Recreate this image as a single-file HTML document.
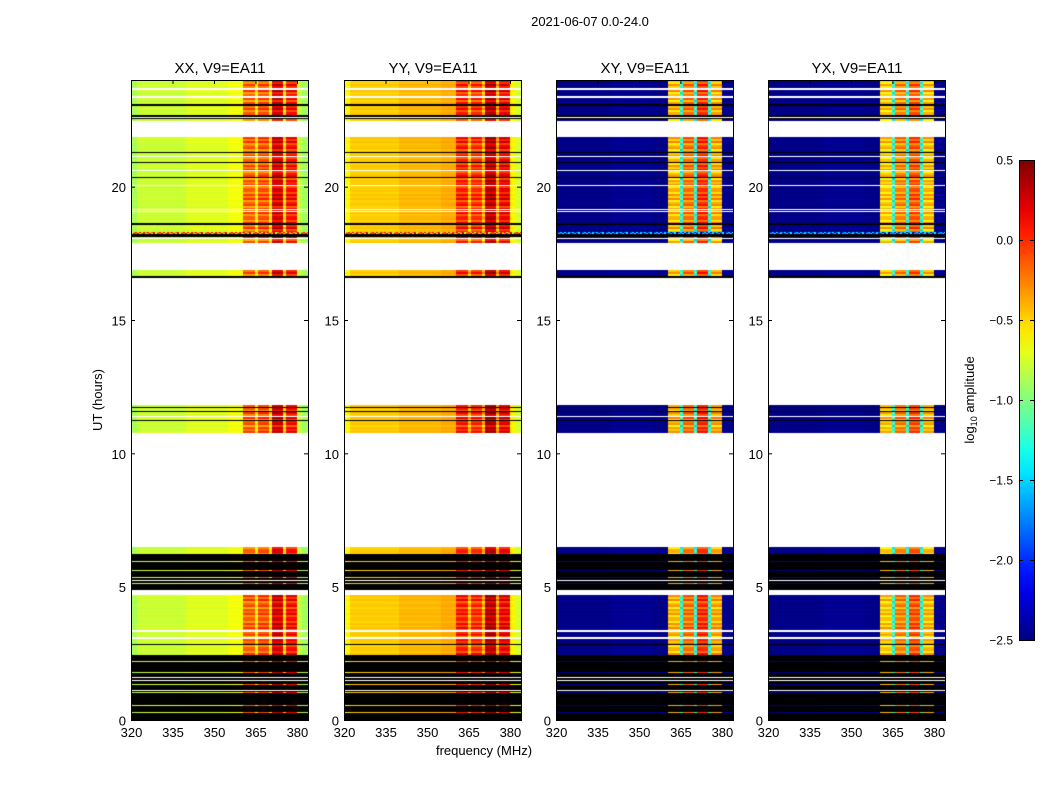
<!DOCTYPE html>
<html><head><meta charset="utf-8"><style>
body{margin:0;background:#fff;width:1050px;height:800px;overflow:hidden;font-family:"Liberation Sans","DejaVu Sans",sans-serif}
#root{position:relative;width:1050px;height:800px}
canvas{position:absolute}
svg{position:absolute;left:0;top:0}
</style></head><body>
<div id="root">
<canvas id="c0" width="177" height="640" style="left:131px;top:80px"></canvas>
<canvas id="c1" width="177" height="640" style="left:344px;top:80px"></canvas>
<canvas id="c2" width="177" height="640" style="left:556px;top:80px"></canvas>
<canvas id="c3" width="177" height="640" style="left:768px;top:80px"></canvas>
<svg id="ov" width="1050" height="800"></svg>
</div>
<script>
const panelTitles=["XX, V9=EA11","YY, V9=EA11","XY, V9=EA11","YX, V9=EA11"];
const panelLeft=[131,344,556,768];
const freqEdges=[320,322,340,355,360.5,365,366,370,371,375,376,380,382,384];
const levXX=[-0.88,-0.78,-0.72,-0.66,-0.2,-0.62,-0.15,-0.58,0.2,-0.55,0.05,-0.8,-0.9];
const levYY=[-0.62,-0.48,-0.42,-0.38,0.0,-0.45,-0.05,-0.42,0.3,-0.38,0.12,-0.6,-0.75];
const levXY=[-2.48,-2.48,-2.45,-2.48,-0.45,-1.3,-0.25,-1.3,-0.05,-1.3,-0.4,-2.45,-2.48];
const levYX=[-2.48,-2.48,-2.45,-2.48,-0.5,-1.3,-0.3,-1.3,-0.15,-1.3,-0.45,-2.45,-2.48];
const rowTex=[0.05,-0.1,0.12,-0.05,0.15,-0.12,0.02,0.1,-0.15,0.08,-0.02,0.12,-0.1,0.04];
const noiseTex=[0.3,-1.3,-0.2,0.4,-1.5,-0.6,0.2,-0.9,0.45,-1.2,0.1,-0.4];
const segs=[
[24.0,23.70,'d'],[23.64,23.40,'d'],[23.34,23.10,'d'],[23.10,23.04,'k'],[23.04,22.89,'d'],
[22.89,22.69,'d'],[22.69,22.63,'k'],[22.58,22.54,'k'],[22.54,22.48,'d'],
[21.86,21.30,'d'],[21.30,21.26,'k'],[21.26,21.15,'d'],[21.11,20.93,'d'],[20.93,20.87,'k'],
[20.87,20.63,'d'],[20.59,20.36,'d'],[20.36,20.33,'k'],[20.33,20.06,'d'],[20.03,19.16,'d'],
[19.13,19.09,'d'],[19.05,18.64,'d'],[18.64,18.58,'k'],[18.58,18.30,'d'],[18.30,18.22,'n'],
[18.22,18.13,'k'],[18.13,18.08,'d'],[18.02,17.89,'d'],[16.88,16.65,'d'],[16.65,16.59,'k'],
[11.81,11.74,'d'],[11.74,11.70,'k'],[11.70,11.59,'d'],[11.59,11.55,'k'],[11.55,11.40,'d'],
[11.36,11.25,'d'],[11.25,11.21,'k'],[11.21,10.76,'d'],
[6.49,6.23,'d'],[6.23,4.88,'k'],
[4.69,3.38,'d'],[3.30,3.11,'d'],[3.04,2.85,'d'],[2.85,2.81,'k'],[2.81,2.44,'d'],
[2.44,0.0,'k']];
const lineHours=[5.96,5.63,5.36,5.14,2.21,1.80,1.35,1.05,0.56,0.30];
const whiteLineHours=[1.61,1.50,1.13,5.26];
const levels=[levXX,levYY,levXY,levYX];

function jet(v){const x=Math.max(0,Math.min(1,(v+2.5)/3));
 const c=t=>Math.round(255*Math.max(0,Math.min(1,1.5-Math.abs(4*x-t))));
 return `rgb(${c(3)},${c(2)},${c(1)})`;}
const Y=h=>(24-h)*640/24;
const X=f=>(f-320)/64*177;

levels.forEach((lev,p)=>{
 const ctx=document.getElementById('c'+p).getContext('2d');
 function dataRow(y0,y1,tex){
  for(let i=0;i<lev.length;i++){
   const rfi=lev[i]>-1.6&&freqEdges[i]>=360&&freqEdges[i]<380;
   const v=lev[i]+tex*(rfi?1.4:0.25);
   ctx.fillStyle=jet(v);
   const xa=Math.round(X(freqEdges[i])),xb=Math.round(X(freqEdges[i+1]));
   ctx.fillRect(xa,y0,xb-xa,y1-y0);
  }
 }
 let r=0;
 segs.forEach(s=>{
  const y0=Math.round(Y(s[0])),y1=Math.max(Math.round(Y(s[1])),y0+1);
  if(s[2]==='k'){ctx.fillStyle='#000';ctx.fillRect(0,y0,177,y1-y0);}
  else if(s[2]==='n'){
   for(let y=y0;y<y1;y++){for(let x=0;x<177;x+=2){
     const t=noiseTex[(x/2+y*5)%noiseTex.length];
     const base=p>1?-1.6:0.0;
     ctx.fillStyle=jet(base+t*0.6);ctx.fillRect(x,y,2,1);}}
  } else {
   for(let y=y0;y<y1;y+=2){dataRow(y,Math.min(y+2,y1),rowTex[r++%rowTex.length]);}
  }
 });
 lineHours.forEach(h=>{const y=Math.round(Y(h));dataRow(y,y+1,0.05);});
 whiteLineHours.forEach(h=>{const y=Math.round(Y(h));ctx.fillStyle='#fff';ctx.fillRect(0,y,177,1);});
});

const NS='http://www.w3.org/2000/svg';
const ov=document.getElementById('ov');
function el(tag,attrs,txt){const e=document.createElementNS(NS,tag);for(const k in attrs)e.setAttribute(k,attrs[k]);if(txt!==undefined)e.textContent=txt;ov.appendChild(e);return e;}
const xTicks=[320,335,350,365,380];
const yTicks=[0,5,10,15,20];
panelLeft.forEach((L,p)=>{
 const fr=el('rect',{x:L+0.5,y:80.5,width:177,height:640,fill:'none',stroke:'#000','stroke-width':1});
 
 
 const t=el('text',{x:L+89,y:73,'text-anchor':'middle','font-size':15,fill:'#000'},panelTitles[p]);
 
 
 xTicks.forEach(f=>{const x=L+X(f)+0.5;
  el('line',{x1:x,x2:x,y1:720,y2:716,stroke:'#000'});el('line',{x1:x,x2:x,y1:80,y2:84,stroke:'#000'});
  const tl=el('text',{x:x,y:737,'text-anchor':'middle','font-size':13,fill:'#000'},String(f));
  
  });
 yTicks.forEach(h=>{const y=80+Y(h)+0.5;
  el('line',{x1:L,x2:L+4,y1:y,y2:y,stroke:'#000'});el('line',{x1:L+177,x2:L+173,y1:y,y2:y,stroke:'#000'});
  const yl=el('text',{x:L-5,y:y+5,'text-anchor':'end','font-size':13,fill:'#000'},String(h));
  
  });
});
const st=el('text',{x:590,y:26,'text-anchor':'middle','font-size':13,fill:'#000'},'2021-06-07 0.0-24.0');


const xl=el('text',{x:484,y:755,'text-anchor':'middle','font-size':13,fill:'#000'},'frequency (MHz)');


const yl=el('text',{x:0,y:0,'text-anchor':'middle','font-size':13,fill:'#000',transform:'translate(102,400) rotate(-90)'},'UT (hours)');


const defs=el('defs',{});
const g=document.createElementNS(NS,'linearGradient');g.setAttribute('id','jg');g.setAttribute('x1','0');g.setAttribute('y1','1');g.setAttribute('x2','0');g.setAttribute('y2','0');defs.appendChild(g);
for(let i=0;i<=20;i++){const s=document.createElementNS(NS,'stop');s.setAttribute('offset',i/20);s.setAttribute('stop-color',jet(-2.5+3*i/20));g.appendChild(s);}
const cb=el('rect',{x:1019.5,y:160.5,width:15,height:480,fill:'url(#jg)',stroke:'#000'});


const cbTicks=[0.5,0.0,-0.5,-1.0,-1.5,-2.0,-2.5];
cbTicks.forEach(v=>{const y=160+(0.5-v)/3*480+0.5;
 el('line',{x1:1019,x2:1023,y1:y,y2:y,stroke:'#000'});el('line',{x1:1034,x2:1030,y1:y,y2:y,stroke:'#000'});
 const t=el('text',{x:1013,y:y+4,'text-anchor':'end','font-size':12,fill:'#000'},v.toFixed(1).replace('-','\u2212'));
 
 });
const cl=el('text',{x:0,y:0,'text-anchor':'middle','font-size':13,fill:'#000',transform:'translate(974,400) rotate(-90)'});


cl.innerHTML='log<tspan font-size="9" dy="3">10</tspan><tspan dy="-3"> amplitude</tspan>';
</script>
</body></html>
